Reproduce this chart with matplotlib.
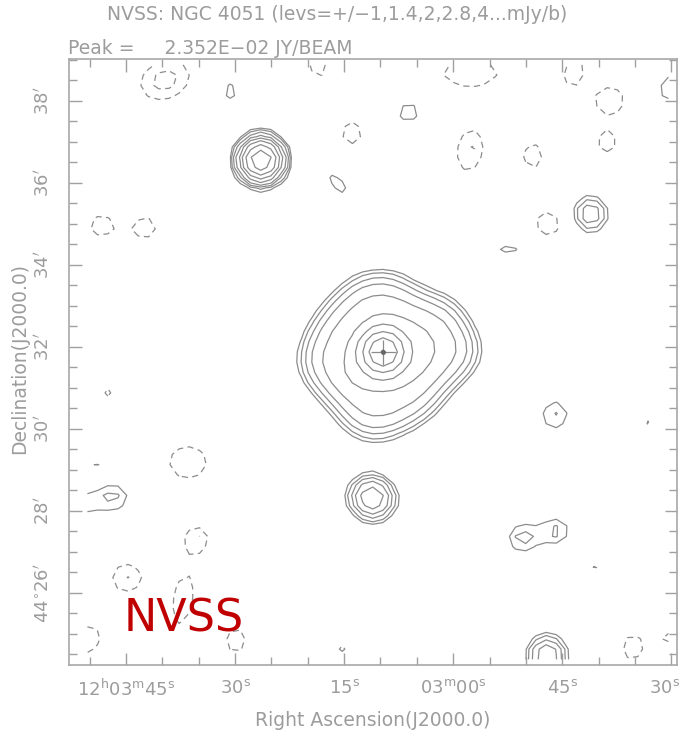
import numpy as np
import matplotlib
matplotlib.use("Agg")
import matplotlib.pyplot as plt
from matplotlib.path import Path
from matplotlib.transforms import ScaledTranslation

# positions: RA in seconds after 12h03m00s, Dec in arcmin after +44d00m
# peaks in mJy/beam, gaussian widths (sigma) in arcsec, angle in deg
src_ra = [9.65, 26.43, -18.83, 11.16, -9.47, -14.15, -12.91, 30.69, 15.84, 6.07,
          -29.55, -7.68, -14.01, 49.40, 46.65, 51.33, 45.55,
          39.63, 18.59, 13.91, 48.44, 42.39, -2.32, -16.62, -21.58, -2.32, -10.98,
          -21.16, -13.05, 47.47, -26.53, 36.47, 35.23, 44.86, 37.16, 29.87, 49.95,
          15.29, -19.24, -24.60, -29.55]
src_dec = [31.88, 36.56, 35.24, 28.32, 27.34, 27.51, 24.49, 38.24, 35.98, 37.73,
           38.32, 34.39, 30.34, 29.17, 28.34, 28.15, 24.36,
           38.51, 38.80, 37.22, 34.95, 34.90, 38.68, 38.71, 38.02, 36.80, 36.66,
           36.98, 35.00, 30.90, 30.22, 29.19, 27.34, 26.37, 25.83, 24.85, 24.85,
           24.66, 26.68, 24.66, 24.93]
src_peak = [16.8, 15.6, 2.7, 5.6, 1.62, 1.52, 3.9, 1.22, 1.2, 1.25,
            1.2, 1.15, 1.45, 1.03, 1.5, 1.15, 1.15,
            -1.6, -1.2, -1.3, -1.35, -1.35, -1.3, -1.3, -1.45, -1.5, -1.3,
            -1.3, -1.42, -1.08, -1.06, -1.3, -1.25, -1.42, -1.3, -1.3, -1.3,
            -1.08, -1.07, -1.3, -1.1]
src_sx = [19.1, 19.1, 19.1, 21, 19.1, 19.1, 19.1, 19.1, 30, 23.5,
          30, 27, 20.4, 36, 22, 22, 19.1,
          38, 22, 20, 21, 21, 55, 26, 24, 33, 19.1,
          19.1, 21.8, 19.1, 19.1, 38, 20, 25.3, 49, 24, 28,
          19.1, 22, 24, 19.1]
src_sy = [19.1, 19.1, 19.1, 20, 19.1, 19.1, 19.1, 19.1, 15, 20.7,
          20.6, 15, 22, 8, 19.1, 19.1, 19.1,
          28, 19.1, 23, 19.1, 19.1, 26, 17, 22, 21, 24,
          19.1, 21.8, 22, 22, 32, 19.1, 23.6, 20, 19.1, 24,
          19.1, 19.1, 18, 19.1]
src_pa = [0, 0, 0, -30, 0, 0, 0, 0, -50, 20,
          65, 0, 0, 0, 0, 0, 0,
          20, 0, 0, 0, 15, 0, 70, 0, 80, 0,
          0, 0, 0, 0, 0, 0, 0, 80, 90, 90,
          0, 0, 90, 0]

# diffuse emission of the galaxy disk (outline + brighter inner part)
disk_ra = [20.60, 19.20, 16.60, 13.00, 8.60, 4.20, 0.20, -2.80, -2.80, 1.50,
           3.30, 7.10, 10.80, 14.20, 15.40, 19.20]
disk_dec = [31.62, 32.36, 33.00, 33.60, 33.70, 33.20, 33.02, 32.08, 31.66, 30.98,
            30.48, 30.08, 29.83, 30.08, 30.48, 31.15]
disk_level = 4.6
core_ra = [15.43, 15.15, 12.81, 8.27, 4.42, 2.50, 1.94, 2.77, 4.97, 8.00,
           10.89, 12.54, 13.22, 13.91, 15.01]
core_dec = [31.37, 31.05, 31.00, 31.02, 31.29, 31.68, 31.98, 32.32, 32.59, 32.68,
            32.66, 32.37, 32.07, 31.73, 31.54]
core_level = 2.2

pos_levels = [1, 1.4, 2, 2.8, 4, 5.6, 8, 11.3, 16, 22.6]
neg_levels = [-2, -1.4, -1]

ra_ticks = [45, 30, 15, 0, -15, -30]
ra_labels = [r'$12^{\mathrm{h}}03^{\mathrm{m}}45^{\mathrm{s}}$', r'$30^{\mathrm{s}}$',
             r'$15^{\mathrm{s}}$', r'$03^{\mathrm{m}}00^{\mathrm{s}}$',
             r'$45^{\mathrm{s}}$', r'$30^{\mathrm{s}}$']
dec_ticks = [26, 28, 30, 32, 34, 36, 38]
dec_labels = [r"$44^{\circ}26^{\prime}$", r"$28^{\prime}$", r"$30^{\prime}$",
              r"$32^{\prime}$", r"$34^{\prime}$", r"$36^{\prime}$", r"$38^{\prime}$"]

beam = 45.0 / 2.3548        # NVSS beam sigma, arcsec
pix = 15.0                  # NVSS pixel, arcsec
cosd = np.cos(np.radians(44.5))

def to_uv(ra, dec):
    return -np.asarray(ra) * 15 * cosd, np.asarray(dec) * 60.0

# map grid (15" pixels, centred on the nucleus)
u_src, v_src = to_uv(src_ra, src_dec)
u_lo, v_lo = to_uv(51.6, 24.36)
u_hi, v_hi = to_uv(-30.8, 39.05)
gu = u_src[0] + pix * np.arange(np.ceil((u_lo - u_src[0]) / pix), np.floor((u_hi - u_src[0]) / pix) + 1)
gv = v_src[0] + pix * np.arange(np.ceil((v_lo - v_src[0]) / pix), np.floor((v_hi - v_src[0]) / pix) + 1)
U, V = np.meshgrid(gu, gv)
sky = np.zeros_like(U)

for u, v, p, sx, sy, pa in zip(u_src, v_src, src_peak, src_sx, src_sy, src_pa):
    t = np.radians(pa)
    du, dv = U - u, V - v
    a = du * np.cos(t) + dv * np.sin(t)
    b = -du * np.sin(t) + dv * np.cos(t)
    sky += p * np.exp(-0.5 * (a**2 / sx**2 + b**2 / sy**2))

# diffuse parts: fill outline on a fine raster, smooth with the beam
for pra, pdec, lev in [(disk_ra, disk_dec, disk_level), (core_ra, core_dec, core_level)]:
    pu, pv = to_uv(pra, pdec)
    step = 3.0
    fu = np.arange(pu.min() - 6, pu.max() + 6, step)
    fv = np.arange(pv.min() - 6, pv.max() + 6, step)
    FU, FV = np.meshgrid(fu, fv)
    inside = Path(np.column_stack([pu, pv])).contains_points(
        np.column_stack([FU.ravel(), FV.ravel()])).reshape(FU.shape).astype(float)
    ku = np.exp(-0.5 * (gu[:, None] - fu[None, :])**2 / beam**2)
    kv = np.exp(-0.5 * (gv[:, None] - fv[None, :])**2 / beam**2)
    sky += lev * (kv @ inside @ ku.T) * step**2 / (2 * np.pi * beam**2)

ra_grid = -gu / (15 * cosd)
dec_grid = gv / 60.0

line_col = '#8c8c8c'
text_col = '#9c9c9c'

fig = plt.figure(figsize=(6.84, 7.36), dpi=100)
ax = fig.add_axes([69 / 684, 1 - 665 / 736, 608 / 684, 606 / 736])

ax.contour(ra_grid, dec_grid, sky, levels=pos_levels, colors=line_col,
           linewidths=0.9, linestyles='solid')
ax.contour(ra_grid, dec_grid, sky, levels=neg_levels, colors=line_col,
           linewidths=0.9, linestyles=[(0, (5, 3.5))])

# cross on the nucleus
ax.plot(src_ra[0], src_dec[0], marker='+', ms=18, mew=0.9, color=line_col)
ax.plot(src_ra[0], src_dec[0], marker='o', ms=2.5, color='#666666')

ax.set_xlim(52.84, -30.79)
ax.set_ylim(24.243, 39.024)
ax.set_xticks(ra_ticks)
ax.set_xticklabels(ra_labels)
ax.set_xticks(np.arange(-30, 55, 5), minor=True)
ax.set_yticks(dec_ticks)
ax.set_yticklabels(dec_labels)
ax.set_yticks(np.arange(24.5, 39.1, 0.5), minor=True)
ax.tick_params(which='both', direction='in', top=True, right=True, color='#a0a0a0',
               labelcolor=text_col, labelsize=13)
ax.tick_params(which='major', length=9, width=1)
ax.tick_params(which='minor', length=6, width=1)
ax.tick_params(axis='x', pad=10)
ax.tick_params(axis='y', pad=12, labelrotation=90)
for lab in ax.get_yticklabels():
    lab.set_va('center')
last = ax.get_xticklabels()[-1]
last.set_transform(last.get_transform() + ScaledTranslation(-5 / 72, 0, fig.dpi_scale_trans))
for s in ax.spines.values():
    s.set_color('#a8a8a8')
    s.set_linewidth(1.2)

fig.text(337 / 684, 1 - 15 / 736, 'NVSS: NGC 4051 (levs=+/\u22121,1.4,2,2.8,4...mJy/b)',
         ha='center', va='center', fontsize=13.5, color=text_col)
fig.text(68 / 684, 1 - 48 / 736, 'Peak =     2.352E\u221202 JY/BEAM',
         ha='left', va='center', fontsize=13.5, color=text_col)
fig.text(373 / 684, 1 - 720 / 736, 'Right Ascension(J2000.0)',
         ha='center', va='center', fontsize=13.5, color=text_col)
fig.text(20 / 684, 1 - 358 / 736, 'Declination(J2000.0)', rotation=90,
         ha='center', va='center', fontsize=13.5, color=text_col)
fig.text(124 / 684, 1 - 632 / 736, 'NVSS', ha='left', va='baseline',
         fontsize=32, color='#c00000')

fig.savefig('out.png', dpi=100)
